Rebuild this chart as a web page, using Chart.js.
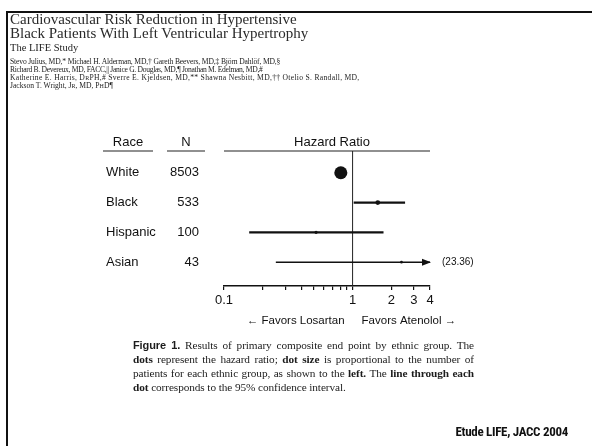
<!DOCTYPE html>
<html>
<head>
<meta charset="utf-8">
<script src="https://cdn.jsdelivr.net/npm/chart.js@4.4.1/dist/chart.umd.min.js"></script>
<style>
  html, body { margin: 0; padding: 0; background: #fff; }
  #page { position: relative; width: 592px; height: 446px; overflow: hidden; background: #fff; }
  #chart { position: absolute; left: 0; top: 0; }
  .frameTop { position: absolute; left: 6px; top: 11px; width: 586px; height: 2px; background: #111; }
  .frameLeft { position: absolute; left: 6px; top: 11px; width: 2px; height: 435px; background: #111; }
  .t { position: absolute; white-space: nowrap; color: #1c1c1c; }
  .serif { font-family: "Liberation Serif", "Times New Roman", serif; }
  .title { left: 10px; top: 12px; font-size: 15px; line-height: 14px; color: #2a2a2a; }
  .sub { left: 10px; top: 42px; font-size: 10.5px; line-height: 12px; }
  .authors { left: 10px; top: 58px; font-size: 7.6px; line-height: 8px; }
  .cap { position: absolute; left: 133px; top: 338px; width: 341px; font-size: 11.3px; line-height: 14px; color: #1c1c1c; letter-spacing: -0.1px; word-spacing: -0.5px; }
  .cap .j { text-align: justify; text-align-last: justify; }
  .cap b { font-weight: bold; }
  .cap .fig { font-family: "Liberation Sans", Arial, sans-serif; font-weight: bold; font-size: 11px; }
  .src { right: 24px; top: 424px; font-family: "Liberation Sans Narrow", "Roboto Condensed", "Liberation Sans", sans-serif; font-weight: bold; font-size: 13px; line-height: 16px; color: #111; letter-spacing: -0.3px; }
</style>
</head>
<body>
<div id="page">
  <canvas id="chart" width="592" height="446"></canvas>
  <div class="frameTop"></div>
  <div class="frameLeft"></div>
  <div class="t serif title">Cardiovascular Risk Reduction in Hypertensive<br>Black Patients With Left Ventricular Hypertrophy</div>
  <div class="t serif sub">The LIFE Study</div>
  <div class="t serif authors"><span style="letter-spacing:-0.15px">Stevo Julius, MD,* Michael H. Alderman, MD,† Gareth Beevers, MD,‡ Björn Dahlöf, MD,§</span><br><span style="letter-spacing:-0.3px">Richard B. Devereux, MD, FACC,|| Janice G. Douglas, MD,¶ Jonathan M. Edelman, MD,#</span><br><span style="letter-spacing:0.3px">Katherine E. Harris, D<span style="font-size:6px">R</span>PH,# Sverre E. Kjeldsen, MD,** Shawna Nesbitt, MD,†† Otelio S. Randall, MD,</span><br>Jackson T. Wright, J<span style="font-size:6px">R</span>, MD, P<span style="font-size:6px">H</span>D¶</div>
  <div class="cap serif">
    <div class="j"><span class="fig">Figure 1.</span> Results of primary composite end point by ethnic group. The</div>
    <div class="j"><b>dots</b> represent the hazard ratio; <b>dot size</b> is proportional to the number of</div>
    <div class="j">patients for each ethnic group, as shown to the <b>left.</b> The <b>line through each</b></div>
    <div style="word-spacing:0"><b>dot</b> corresponds to the 95% confidence interval.</div>
  </div>
  <div class="t src">Etude LIFE, JACC 2004</div>
</div>
<script>
// Primary composite end point by ethnic group (losartan vs atenolol)
const races = ['White', 'Black', 'Hispanic', 'Asian'];
const counts = [8503, 533, 100, 43];
const hazardRatio = [0.81, 1.57, 0.52, 2.40];
const ciLower = [0.74, 1.02, 0.157, 0.253];
const ciUpper = [0.89, 2.56, 1.74, 23.36];

const tickValues = [0.1, 0.2, 0.3, 0.4, 0.5, 0.6, 0.7, 0.8, 0.9, 1, 2, 3, 4];
const tickLabels = ['0.1', '1', '2', '3', '4'];
const columnHeaders = ['Race', 'N', 'Hazard Ratio'];
const favorLeft = '\u2190 Favors Losartan';
const favorRight = 'Favors Atenolol \u2192';

const AXIS_MIN = 0.1;
const AXIS_MAX = 4;
const SANS = '"Liberation Sans", Arial, sans-serif';
const INK = '#111';

// one horizontal segment per confidence interval
const ciDatasets = races.map((r, i) => ({
  type: 'line',
  label: r + ' 95% CI',
  data: [{ x: ciLower[i], y: i }, { x: ciUpper[i], y: i }],
  borderColor: INK,
  borderWidth: ciUpper[i] > AXIS_MAX ? 1.5 : 2.2,
  pointRadius: 0,
  fill: false,
  order: 2
}));

// dot area grows with group size
const dotRadius = counts.map(n => 1 + 0.06 * Math.sqrt(n));

const pointDataset = {
  type: 'scatter',
  label: 'Hazard ratio',
  data: hazardRatio.map((v, i) => ({ x: v, y: i })),
  backgroundColor: INK,
  borderColor: INK,
  borderWidth: 0,
  pointRadius: dotRadius,
  pointHoverRadius: dotRadius,
  order: 1
};

const forestDecor = {
  id: 'forestDecor',
  beforeDatasetsDraw(chart) {
    const { ctx, chartArea: a, scales: { x } } = chart;
    ctx.save();
    // header rule over the plot and under the table columns
    ctx.strokeStyle = '#222';
    ctx.lineWidth = 1.2;
    ctx.beginPath();
    ctx.moveTo(a.left, a.top); ctx.lineTo(a.right, a.top);
    ctx.moveTo(103, a.top); ctx.lineTo(153, a.top);
    ctx.moveTo(167, a.top); ctx.lineTo(205, a.top);
    ctx.stroke();
    // line of no effect
    const x1 = x.getPixelForValue(1);
    ctx.lineWidth = 1;
    ctx.beginPath();
    ctx.moveTo(x1, a.top); ctx.lineTo(x1, a.bottom);
    ctx.stroke();
    ctx.restore();
  },
  afterDatasetsDraw(chart) {
    const { ctx, chartArea: a, scales: { x, y } } = chart;
    ctx.save();
    ctx.fillStyle = INK;
    ctx.font = '13px ' + SANS;
    ctx.textBaseline = 'middle';
    const headY = a.top - 9;
    ctx.textAlign = 'center';
    ctx.fillText(columnHeaders[0], 128, headY);
    ctx.fillText(columnHeaders[1], 186, headY);
    ctx.fillText(columnHeaders[2], (a.left + a.right) / 2 + 5, headY);

    races.forEach((r, i) => {
      const py = y.getPixelForValue(i);
      ctx.textAlign = 'left';
      ctx.fillText(r, 106, py);
      ctx.textAlign = 'right';
      ctx.fillText(String(counts[i]), 199, py);
      // interval running past the axis: arrowhead plus its upper bound
      if (ciUpper[i] > AXIS_MAX) {
        const tip = x.getPixelForValue(AXIS_MAX) + 1;
        ctx.beginPath();
        ctx.moveTo(tip, py);
        ctx.lineTo(tip - 9, py - 3.5);
        ctx.lineTo(tip - 9, py + 3.5);
        ctx.closePath();
        ctx.fill();
        ctx.font = '10px ' + SANS;
        ctx.textAlign = 'left';
        ctx.fillText('(' + ciUpper[i].toFixed(2) + ')', tip + 11, py);
        ctx.font = '13px ' + SANS;
      }
    });

    // direction labels either side of HR = 1
    const x1 = x.getPixelForValue(1);
    ctx.font = '11.5px ' + SANS;
    ctx.textAlign = 'right';
    ctx.fillText(favorLeft, x1 - 8, a.bottom + 35);
    ctx.textAlign = 'left';
    ctx.fillText(favorRight, x1 + 9, a.bottom + 35);
    ctx.restore();
  }
};

new Chart(document.getElementById('chart'), {
  data: { datasets: [...ciDatasets, pointDataset] },
  options: {
    responsive: false,
    animation: false,
    events: [],
    layout: { padding: { left: 224, right: 162, top: 151, bottom: 130 } },
    plugins: { legend: { display: false }, tooltip: { enabled: false } },
    scales: {
      x: {
        type: 'logarithmic',
        min: AXIS_MIN,
        max: AXIS_MAX,
        afterBuildTicks: s => { s.ticks = tickValues.map(v => ({ value: v })); },
        afterFit: s => { s.height = 30; },
        border: { display: true, color: INK, width: 1.5 },
        grid: { display: true, drawOnChartArea: false, drawTicks: true, tickLength: 4, color: INK, lineWidth: 1.2 },
        ticks: {
          autoSkip: false,
          maxRotation: 0,
          padding: 3,
          color: INK,
          font: { family: SANS, size: 13 },
          callback: v => {
            const s = String(Number(v.toPrecision(3)));
            return tickLabels.includes(s) ? s : '';
          }
        }
      },
      y: {
        type: 'linear',
        display: false,
        reverse: true,
        min: -0.73,
        max: 3.8
      }
    }
  },
  plugins: [forestDecor]
});
</script>
</body>
</html>
